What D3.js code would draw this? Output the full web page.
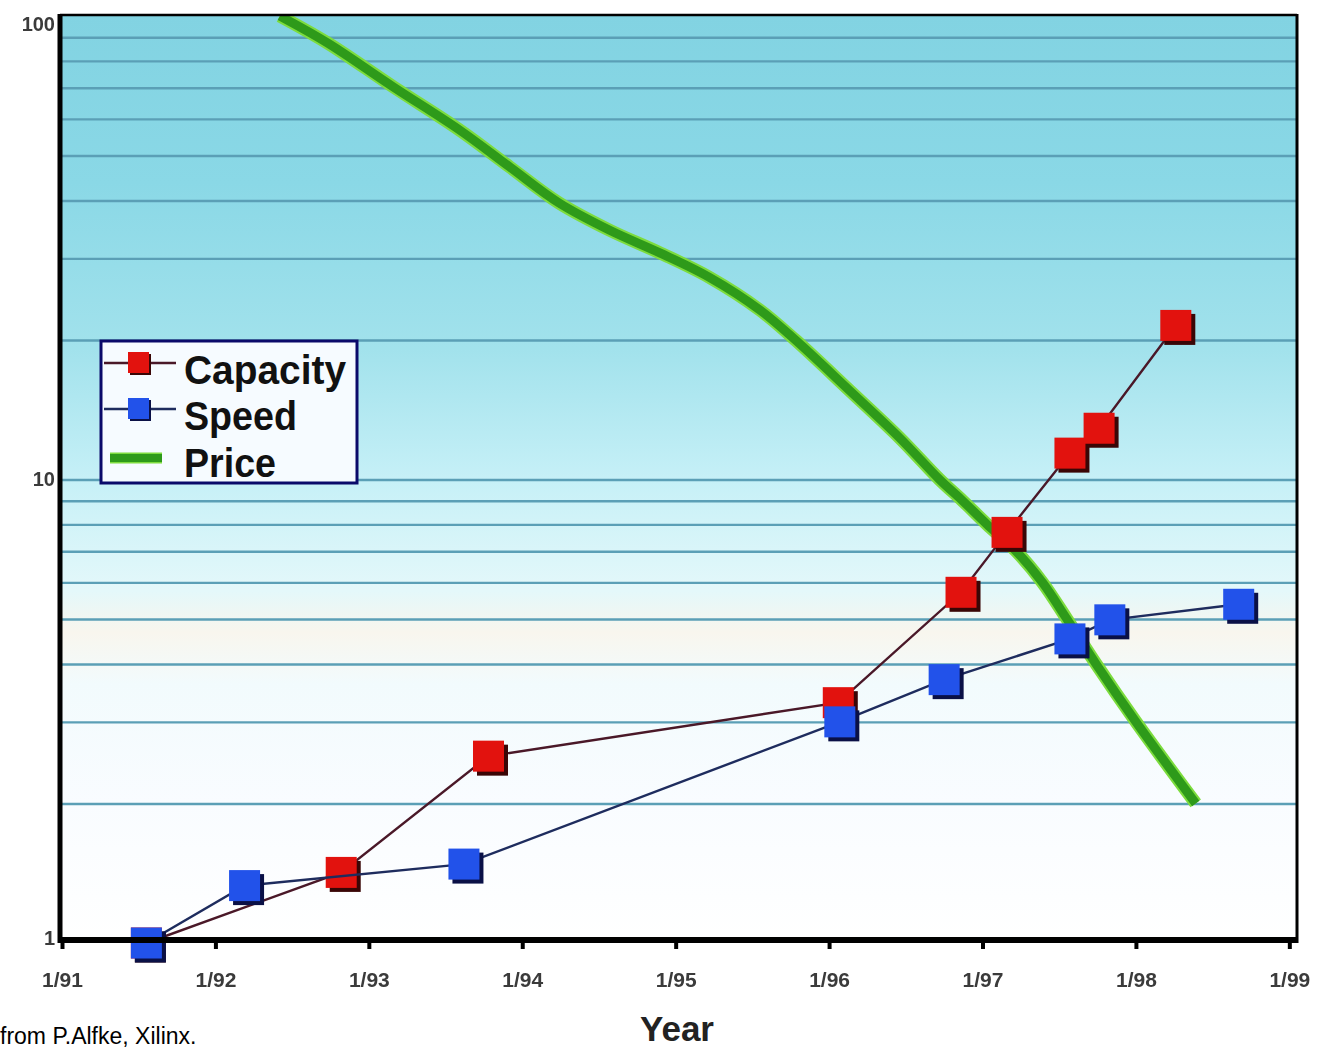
<!DOCTYPE html>
<html>
<head>
<meta charset="utf-8">
<script src="https://cdn.jsdelivr.net/npm/d3@7/dist/d3.min.js"></script>
<style>
  html, body { margin: 0; padding: 0; background: #ffffff; }
  svg { display: block; }
</style>
</head>
<body>
<svg id="chart" width="1322" height="1051"></svg>
<script>
// ---- data -------------------------------------------------------------
const seriesNames = ["Capacity", "Speed", "Price"];

// x positions are fractional years
const yearTicks = [1991, 1992, 1993, 1994, 1995, 1996, 1997, 1998, 1999];
const yearTickLabels = ["1/91", "1/92", "1/93", "1/94", "1/95", "1/96", "1/97", "1/98", "1/99"];

const valueTicks = [1, 10, 100];
const valueTickLabels = ["1", "10", "100"];

const capacityYear  = [1991.55, 1992.82, 1993.78, 1996.06, 1996.86, 1997.16, 1997.57, 1997.76, 1998.26];
const capacityValue = [1.0,     1.42,    2.53,    3.30,    5.71,    7.69,    11.4,    12.9,    21.5];

const speedYear  = [1991.55, 1992.19, 1993.62, 1996.07, 1996.75, 1997.57, 1997.83, 1998.67];
const speedValue = [1.0,     1.33,    1.48,    3.0,     3.70,    4.53,    4.98,    5.38];

const priceYear  = [1992.42, 1992.73, 1993.16, 1993.59, 1993.92, 1994.24, 1994.57, 1994.90, 1995.22,
                    1995.55, 1995.78, 1996.13, 1996.46, 1996.72, 1996.87, 1997.03, 1997.22, 1997.39,
                    1997.55, 1997.74, 1998.00, 1998.39];
const priceValue = [100,     87.5,    70.3,    56.8,    47.2,    39.5,    34.5,    30.8,    27.3,
                    23.2,    20.0,    15.6,    12.3,    10.0,    9.0,     8.0,     7.0,     6.0,
                    5.0,     4.0,     3.0,     2.0];

// ---- layout -----------------------------------------------------------
const plot = { left: 62, right: 1297, top: 16, bottom: 943 };

const svg = d3.select("#chart");

const x = d3.scaleLinear().domain([1991, 1999.05]).range([plot.left, plot.right]);
const y = d3.scaleLog().domain([1, 100]).range([plot.bottom, plot.top]);

const defs = svg.append("defs");

const bg = defs.append("linearGradient")
  .attr("id", "plotBg")
  .attr("gradientUnits", "userSpaceOnUse")
  .attr("x1", 0).attr("y1", plot.top).attr("x2", 0).attr("y2", plot.bottom);
[
  [0.00, "#82d3e2"],
  [0.18, "#8ad8e6"],
  [0.36, "#a2e2ec"],
  [0.50, "#c6f0f7"],
  [0.62, "#e4f8fa"],
  [0.665, "#f8f6ee"],
  [0.72, "#f2fbfd"],
  [0.85, "#f9fcff"],
  [1.00, "#ffffff"]
].forEach(([o, c]) => bg.append("stop").attr("offset", o).attr("stop-color", c));

defs.append("filter").attr("id", "soft")
  .append("feGaussianBlur").attr("stdDeviation", 0.6);

defs.append("clipPath").attr("id", "plotClip")
  .append("rect")
  .attr("x", plot.left).attr("y", plot.top)
  .attr("width", plot.right - plot.left).attr("height", plot.bottom - plot.top);

// plot background
svg.append("rect")
  .attr("x", plot.left).attr("y", plot.top)
  .attr("width", plot.right - plot.left).attr("height", plot.bottom - plot.top)
  .attr("fill", "url(#plotBg)");

// horizontal grid lines at every log step between the decades
const gridValues = y.ticks().filter(v => v > 1 && v < 100);
const grid = svg.append("g")
  .attr("transform", `translate(${plot.left},0)`)
  .call(d3.axisLeft(y).tickValues(gridValues).tickSize(-(plot.right - plot.left)).tickFormat(""));
grid.select(".domain").remove();
grid.selectAll("line")
  .attr("stroke", "#5b9fb6")
  .attr("stroke-width", 2.4);

// ---- price (thick green line) -------------------------------------------
const priceData = priceYear.map((t, i) => [t, priceValue[i]]);
const priceLine = d3.line()
  .x(d => x(d[0]))
  .y(d => y(d[1]))
  .curve(d3.curveCatmullRom.alpha(0.5));

const priceG = svg.append("g").attr("clip-path", "url(#plotClip)");
priceG.append("path")
  .datum(priceData)
  .attr("d", priceLine)
  .attr("fill", "none")
  .attr("stroke", "#7ddc3e")
  .attr("stroke-width", 13);
priceG.append("path")
  .datum(priceData)
  .attr("d", priceLine)
  .attr("fill", "none")
  .attr("stroke", "#2e9a1a")
  .attr("stroke-width", 9);

// ---- capacity and speed series ------------------------------------------
const markerSize = 31;

function drawSeries(years, values, lineColor, face, shadow) {
  const data = years.map((t, i) => [t, values[i]]);
  const g = svg.append("g");
  g.append("path")
    .datum(data)
    .attr("d", d3.line().x(d => x(d[0])).y(d => y(d[1])))
    .attr("fill", "none")
    .attr("stroke", lineColor)
    .attr("stroke-width", 2.4);
  const m = g.selectAll("g.mk").data(data).enter().append("g")
    .attr("class", "mk")
    .attr("transform", d => `translate(${x(d[0])},${y(d[1])})`);
  m.append("rect")
    .attr("x", -markerSize / 2 + 4).attr("y", -markerSize / 2 + 4)
    .attr("width", markerSize).attr("height", markerSize)
    .attr("fill", shadow);
  m.append("rect")
    .attr("x", -markerSize / 2).attr("y", -markerSize / 2)
    .attr("width", markerSize).attr("height", markerSize)
    .attr("fill", face);
}

drawSeries(capacityYear, capacityValue, "#4a1828", "#e2120e", "#3a0606");
drawSeries(speedYear, speedValue, "#1e2c5e", "#2252ea", "#0a1046");

// ---- frame and axes -----------------------------------------------------
svg.append("line")
  .attr("x1", plot.left - 2).attr("x2", plot.right)
  .attr("y1", plot.top - 1).attr("y2", plot.top - 1)
  .attr("stroke", "#000").attr("stroke-width", 2.5);
svg.append("line")
  .attr("x1", plot.right).attr("x2", plot.right)
  .attr("y1", plot.top - 2).attr("y2", plot.bottom)
  .attr("stroke", "#000").attr("stroke-width", 3);
svg.append("line")
  .attr("x1", plot.left - 2).attr("x2", plot.left - 2)
  .attr("y1", plot.top - 2).attr("y2", plot.bottom)
  .attr("stroke", "#000").attr("stroke-width", 5);

const xAxis = svg.append("g")
  .attr("transform", `translate(0,${plot.bottom - 3})`)
  .call(d3.axisBottom(x).tickValues(yearTicks).tickSize(9).tickPadding(23)
    .tickFormat((d, i) => yearTickLabels[i]));
xAxis.select(".domain")
  .attr("stroke", "#000").attr("stroke-width", 6)
  .attr("d", `M${plot.left - 4},0H${plot.right + 1}`);
xAxis.selectAll(".tick line").attr("stroke", "#000").attr("stroke-width", 4);
xAxis.selectAll(".tick text")
  .attr("font-family", "Liberation Sans, Arial, sans-serif")
  .attr("font-weight", "bold")
  .attr("font-size", 21)
  .attr("fill", "#3a3a3a")
  .attr("filter", "url(#soft)");

const yAxis = svg.append("g")
  .attr("transform", `translate(${plot.left - 5},0)`)
  .call(d3.axisLeft(y).tickValues(valueTicks).tickSize(0).tickPadding(2)
    .tickFormat((d, i) => valueTickLabels[i]));
yAxis.select(".domain").remove();
yAxis.selectAll(".tick text")
  .attr("font-family", "Liberation Sans, Arial, sans-serif")
  .attr("font-weight", "bold")
  .attr("font-size", 20)
  .attr("fill", "#3a3a3a")
  .attr("filter", "url(#soft)")
  .attr("dy", d => d === 100 ? "0.7em" : d === 1 ? "0.05em" : "0.32em");

// axis title
svg.append("text")
  .attr("x", 677).attr("y", 1041)
  .attr("text-anchor", "middle")
  .attr("font-family", "Liberation Sans, Arial, sans-serif")
  .attr("font-weight", "bold")
  .attr("font-size", 35)
  .attr("fill", "#222")
  .text("Year");

// source note
svg.append("text")
  .attr("x", 0).attr("y", 1044)
  .attr("font-family", "Liberation Sans, Arial, sans-serif")
  .attr("font-size", 23)
  .attr("fill", "#000")
  .text("from P.Alfke, Xilinx.");

// ---- legend -------------------------------------------------------------
const legend = svg.append("g");
legend.append("rect")
  .attr("x", 101).attr("y", 341)
  .attr("width", 256).attr("height", 142)
  .attr("fill", "#f6fbff")
  .attr("stroke", "#0a0a6a")
  .attr("stroke-width", 3);

const legendRows = [
  { name: seriesNames[0], kind: "marker", line: "#4a1828", face: "#e2120e", shadow: "#3a0606", cy: 363, base: 384, len: 162 },
  { name: seriesNames[1], kind: "marker", line: "#1e2c5e", face: "#2252ea", shadow: "#0a1046", cy: 409, base: 430, len: 113 },
  { name: seriesNames[2], kind: "bar", cy: 458, base: 477, len: 92 }
];
legendRows.forEach(r => {
  if (r.kind === "marker") {
    legend.append("line")
      .attr("x1", 104).attr("x2", 176).attr("y1", r.cy).attr("y2", r.cy)
      .attr("stroke", r.line).attr("stroke-width", 2.4);
    legend.append("rect").attr("x", 130).attr("y", r.cy - 9).attr("width", 21).attr("height", 21).attr("fill", r.shadow);
    legend.append("rect").attr("x", 128).attr("y", r.cy - 11).attr("width", 21).attr("height", 21).attr("fill", r.face);
  } else {
    legend.append("line")
      .attr("x1", 110).attr("x2", 162).attr("y1", r.cy).attr("y2", r.cy)
      .attr("stroke", "#7ddc3e").attr("stroke-width", 11);
    legend.append("line")
      .attr("x1", 110).attr("x2", 162).attr("y1", r.cy).attr("y2", r.cy)
      .attr("stroke", "#2e9a1a").attr("stroke-width", 8);
  }
  legend.append("text")
    .attr("x", 184).attr("y", r.base)
    .attr("font-family", "Liberation Sans, Arial, sans-serif")
    .attr("font-weight", "bold")
    .attr("font-size", 40)
    .attr("textLength", r.len)
    .attr("lengthAdjust", "spacingAndGlyphs")
    .attr("fill", "#111")
    .text(r.name);
});
</script>
</body>
</html>
